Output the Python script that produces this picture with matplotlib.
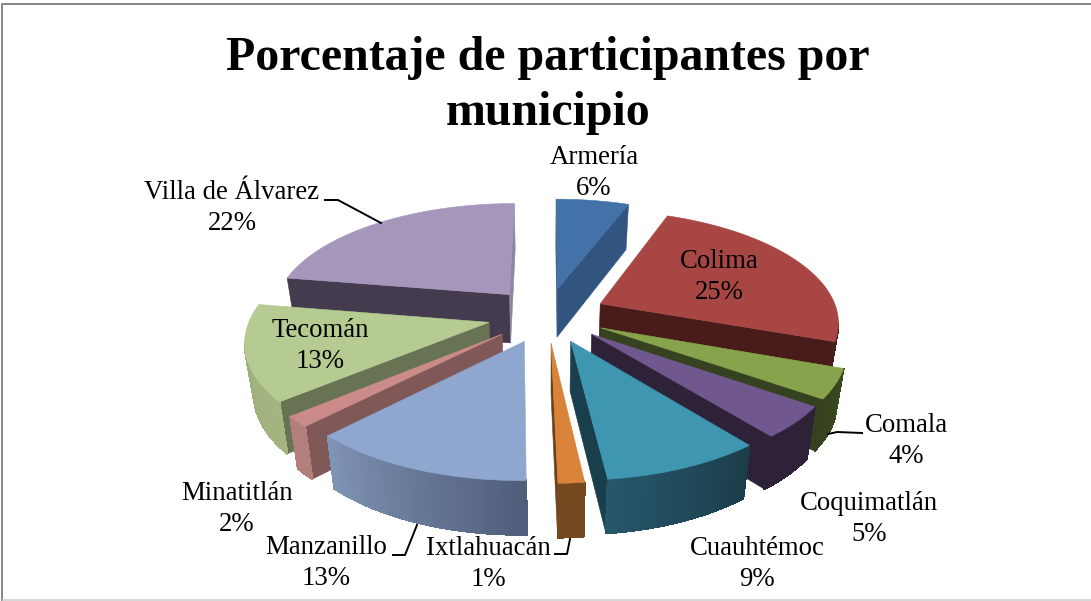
import numpy as np
import matplotlib
matplotlib.use('Agg')
import matplotlib.pyplot as plt
from matplotlib.patches import Polygon
from matplotlib.colors import to_rgb

plt.rcParams['font.family'] = ['Liberation Serif', 'DejaVu Serif']

municipios = ['Armería', 'Colima', 'Comala', 'Coquimatlán', 'Cuauhtémoc',
              'Ixtlahuacán', 'Manzanillo', 'Minatitlán', 'Tecomán', 'Villa de Álvarez']
# printed (rounded) labels and the slice sizes estimated from the angles in the picture
etiquetas = [6, 25, 4, 5, 9, 1, 13, 2, 13, 22]
valores = [5.8, 24.7, 4.2, 4.5, 9.0, 1.47, 12.69, 1.54, 13.7, 22.4]

top_cols = ['#4372A8', '#A84644', '#87A34C', '#70578E', '#3F96B0',
            '#DA833A', '#8FA6CF', '#CB8B88', '#B5CB91', '#A596BB']
cut_cols = ['#31557F', '#471C1A', '#36421F', '#2E2239', '#1A3F4C',
            '#6B4218', '#5E6C88', '#7F5857', '#677352', '#443C4E']
end_cols = ['#31557F', '#471C1A', '#36421F', '#2E2239', '#1A3F4C',
            '#6B4218', '#5E6C88', '#7F5857', '#677352', '#8F86A3']
# arc side colours, clockwise start -> end
arc_cols = [('#31557F', '#31557F'), ('#471C1A', '#471C1A'), ('#3A4A20', '#36421F'),
            ('#2D2238', '#2D2238'), ('#1B3D4A', '#26566A'), ('#75491F', '#75491F'),
            ('#4F5E7A', '#7F93B5'), ('#B37F7D', '#B37F7D'), ('#A5B582', '#9CAD78'),
            ('#443C4E', '#443C4E')]

label_pos = [(594, 173), (719, 277), (906, 441), (869, 519), (757, 564),
             (488, 564), (326, 563), (237, 509), (320, 346), (232, 208)]

# leader lines: municipio -> polyline in pixels
leaders = {
    'Villa de Álvarez': [(325, 200), (338, 200), (381, 223)],
    'Comala': [(828, 434), (837, 432), (862, 433)],
    'Manzanillo': [(393, 555), (405, 555), (417, 525)],
    'Ixtlahuacán': [(555, 554), (567, 554), (570, 539)],
}

# pie geometry
CX, CY = 547, 315
RX, RY = 238, 110
P = 0.147
EXPL = 0.25
H = 49
CONV = 0.03  # vertical edges lean towards the centre


def project(x, y):
    s = 1 / (1 + P * y)
    return CX + RX * x * s, CY - RY * y * s, s


def down(px, py, s):
    return px - CONV * (px - CX), py + H * np.sqrt(s)


def lerp(c1, c2, t):
    a, b = np.array(to_rgb(c1)), np.array(to_rgb(c2))
    return tuple(a + (b - a) * t)


fig = plt.figure(figsize=(10.91, 6.01), dpi=100)
ax = fig.add_axes([0, 0, 1, 1])
ax.set_xlim(0, 1091)
ax.set_ylim(601, 0)
ax.axis('off')

# chart frame, cut off at the right and bottom in the original
ax.plot([2, 2, 1091], [601, 3.5, 3.5], color='#868686', lw=1.4, zorder=1)
ax.plot([3, 1091], [600, 600], color='#CFCFCF', lw=1.2, zorder=1)

total = sum(valores)
cum = np.cumsum([0] + valores) / total * 2 * np.pi
mids = (cum[:-1] + cum[1:]) / 2
order = np.argsort(-np.cos(mids))

z = 2
for i in order:
    a0, a1, m = cum[i], cum[i + 1], mids[i]
    ox, oy = EXPL * np.sin(m), EXPL * np.cos(m)
    th = np.linspace(a0, a1, max(int(np.degrees(a1 - a0)) + 2, 6))
    pts = [project(ox + np.sin(t), oy + np.cos(t)) for t in th]
    apex = project(ox, oy)

    # only faces hanging from a lower edge of the top can be seen
    if pts[0][0] < apex[0]:
        quad = [apex[:2], pts[0][:2], down(*pts[0]), down(*apex)]
        ax.add_patch(Polygon(quad, fc=cut_cols[i], ec=cut_cols[i], lw=0.4, zorder=z))
    if apex[0] < pts[-1][0]:
        quad = [apex[:2], pts[-1][:2], down(*pts[-1]), down(*apex)]
        ax.add_patch(Polygon(quad, fc=end_cols[i], ec=end_cols[i], lw=0.4, zorder=z))
    z += 1

    for k in range(len(pts) - 1):
        p, q = pts[k], pts[k + 1]
        if q[0] >= p[0]:
            continue
        col = lerp(arc_cols[i][0], arc_cols[i][1], k / max(len(pts) - 2, 1))
        quad = [p[:2], q[:2], down(*q), down(*p)]
        ax.add_patch(Polygon(quad, fc=col, ec=col, lw=0.8, antialiased=False, zorder=z))
    z += 1

    # top
    top = [apex[:2]] + [p[:2] for p in pts]
    ax.add_patch(Polygon(top, fc=top_cols[i], ec=top_cols[i], lw=0.4, zorder=z))
    z += 1

for i, name in enumerate(municipios):
    x, y = label_pos[i]
    ax.text(x, y, f'{name}\n{etiquetas[i]}%', ha='center', va='center',
            fontsize=19.3, linespacing=1.29, color='black', zorder=500)

for name, pts in leaders.items():
    xs, ys = zip(*pts)
    ax.plot(xs, ys, color='black', lw=1.4, zorder=400)

ax.text(548, 85.5, 'Porcentaje de participantes por\nmunicipio', ha='center', va='center',
        fontsize=34.5, fontweight='bold', linespacing=1.32, color='black', zorder=500)

fig.savefig('out.png', dpi=100)
